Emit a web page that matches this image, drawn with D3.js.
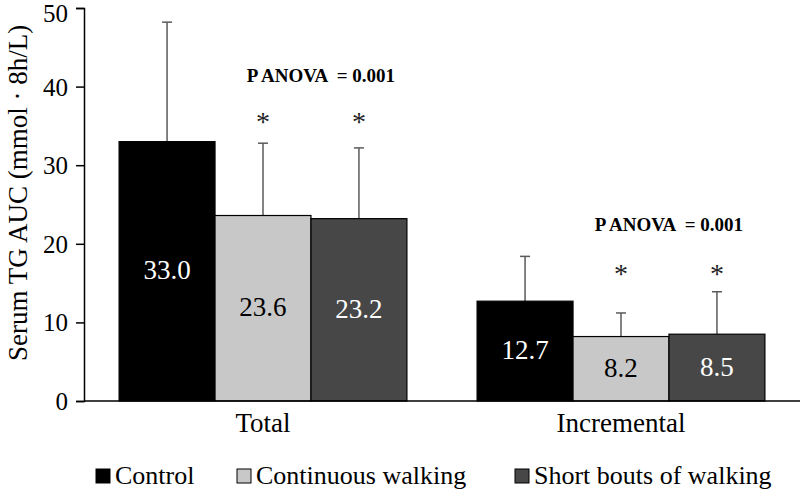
<!DOCTYPE html>
<html lang="en">
<head>
<meta charset="UTF-8">
<title>Serum TG AUC</title>
<script src="https://cdn.jsdelivr.net/npm/d3@7"></script>
<style>
  body { margin: 0; background: white; }
  text { font-family: "Liberation Serif", "Times New Roman", serif; }
</style>
</head>
<body>
<svg id="chart" width="800" height="492"></svg>
<script>
// data
var groups = ["Total", "Incremental"];
var seriesNames = ["Control", "Continuous walking", "Short bouts of walking"];
var colors = ["#000000", "#c8c8c8", "#474747"];
var labelColors = ["#ffffff", "#000000", "#ffffff"];
var means = [[33.0, 23.6, 23.2], [12.7, 8.2, 8.5]];
var sdTop = [[48.2, 32.8, 32.2], [18.4, 11.2, 13.9]];
var starLevel = [36.2, 16.9];   // where the * marks sit (y units)
var anovaLevel = [41.5, 22.5];
var anovaText = "P ANOVA  = 0.001";
var yTicks = [0, 10, 20, 30, 40, 50];

var svg = d3.select("#chart");

var y = d3.scaleLinear().domain([0, 50]).range([401, 8]);
var x0 = d3.scaleBand().domain(groups).range([84, 800]).paddingInner(0.196).paddingOuter(0.098);
var x1 = d3.scaleBand().domain(d3.range(3)).range([0, x0.bandwidth()]);

// y axis
var yAxis = svg.append("g").attr("transform", "translate(84,0)")
  .call(d3.axisLeft(y).tickValues(yTicks).tickSize(8).tickPadding(8));
yAxis.select(".domain").attr("stroke", "#000").attr("stroke-width", 1.5);
yAxis.selectAll(".tick line").attr("stroke", "#000").attr("stroke-width", 1.5);
yAxis.selectAll(".tick text").attr("font-size", 25).attr("fill", "#000")
  .attr("dy", "0.34em")
  .style("font-family", "Liberation Serif");
// top label sits a touch lower so it isn't clipped
yAxis.selectAll(".tick").filter(function(d) { return d === 50; })
  .select("text").attr("dy", "0.55em");

// y label
svg.append("text")
  .attr("transform", "translate(27,193) rotate(-90)")
  .attr("text-anchor", "middle")
  .attr("font-size", 27)
  .text("Serum TG AUC (mmol \u00b7 8h/L)");

// bars
var g = svg.selectAll(".grp").data(groups).enter().append("g")
  .attr("transform", function(d) { return "translate(" + x0(d) + ",0)"; });

var anovaShift = [58, 48];

g.each(function(gname, gi) {
  var sel = d3.select(this);
  var vals = means[gi].map(function(v, i) { return {v: v, i: i, top: sdTop[gi][i]}; });

  // error bars behind bars
  sel.selectAll(".err").data(vals).enter().append("line")
    .attr("x1", function(d) { return x1(d.i) + x1.bandwidth() / 2; })
    .attr("x2", function(d) { return x1(d.i) + x1.bandwidth() / 2; })
    .attr("y1", function(d) { return y(d.v); })
    .attr("y2", function(d) { return y(d.top); })
    .attr("stroke", "#5a5a5a").attr("stroke-width", 1.5);
  sel.selectAll(".cap").data(vals).enter().append("line")
    .attr("x1", function(d) { return x1(d.i) + x1.bandwidth() / 2 - 5; })
    .attr("x2", function(d) { return x1(d.i) + x1.bandwidth() / 2 + 5; })
    .attr("y1", function(d) { return y(d.top); })
    .attr("y2", function(d) { return y(d.top); })
    .attr("stroke", "#5a5a5a").attr("stroke-width", 1.5);

  sel.selectAll("rect").data(vals).enter().append("rect")
    .attr("x", function(d) { return x1(d.i); })
    .attr("y", function(d) { return y(d.v); })
    .attr("width", x1.bandwidth())
    .attr("height", function(d) { return y(0) - y(d.v); })
    .attr("fill", function(d) { return colors[d.i]; })
    .attr("stroke", "#000").attr("stroke-width", 1.2);

  sel.selectAll(".val").data(vals).enter().append("text")
    .attr("x", function(d) { return x1(d.i) + x1.bandwidth() / 2; })
    .attr("y", function(d) { return (y(d.v) + y(0)) / 2 + 8; })
    .attr("text-anchor", "middle")
    .attr("font-size", 27)
    .attr("fill", function(d) { return labelColors[d.i]; })
    .text(function(d) { return d.v.toFixed(1); });

  // asterisks on the two walking bars
  sel.selectAll(".star").data(vals.slice(1)).enter().append("text")
    .attr("x", function(d) { return x1(d.i) + x1.bandwidth() / 2; })
    .attr("y", y(starLevel[gi]) + 15)
    .attr("text-anchor", "middle")
    .attr("font-size", 28)
    .attr("fill", "#222")
    .text("*");

  sel.append("text")
    .attr("x", x0.bandwidth() / 2 + anovaShift[gi])
    .attr("y", y(anovaLevel[gi]) + 7)
    .attr("text-anchor", "middle")
    .attr("font-size", 19)
    .attr("font-weight", "bold")
    .style("white-space", "pre")
    .text(anovaText);
});

// x axis
var xAxis = svg.append("g").attr("transform", "translate(0,401)")
  .call(d3.axisBottom(x0).tickSize(0).tickPadding(12));
xAxis.select(".domain").attr("stroke", "#000").attr("stroke-width", 1.5)
  .attr("d", "M84,0H800");
xAxis.selectAll(".tick text").attr("font-size", 27).attr("fill", "#000")
  .style("font-family", "Liberation Serif");

// legend
var legendX = [96, 237, 515];
var leg = svg.selectAll(".leg").data(seriesNames).enter().append("g")
  .attr("transform", function(d, i) { return "translate(" + legendX[i] + ",469)"; });
leg.append("rect").attr("width", 14).attr("height", 14)
  .attr("fill", function(d, i) { return colors[i]; })
  .attr("stroke", "#000").attr("stroke-width", 1);
leg.append("text").attr("x", 19).attr("y", 15)
  .attr("font-size", 26)
  .text(function(d) { return d; });
</script>
</body>
</html>
